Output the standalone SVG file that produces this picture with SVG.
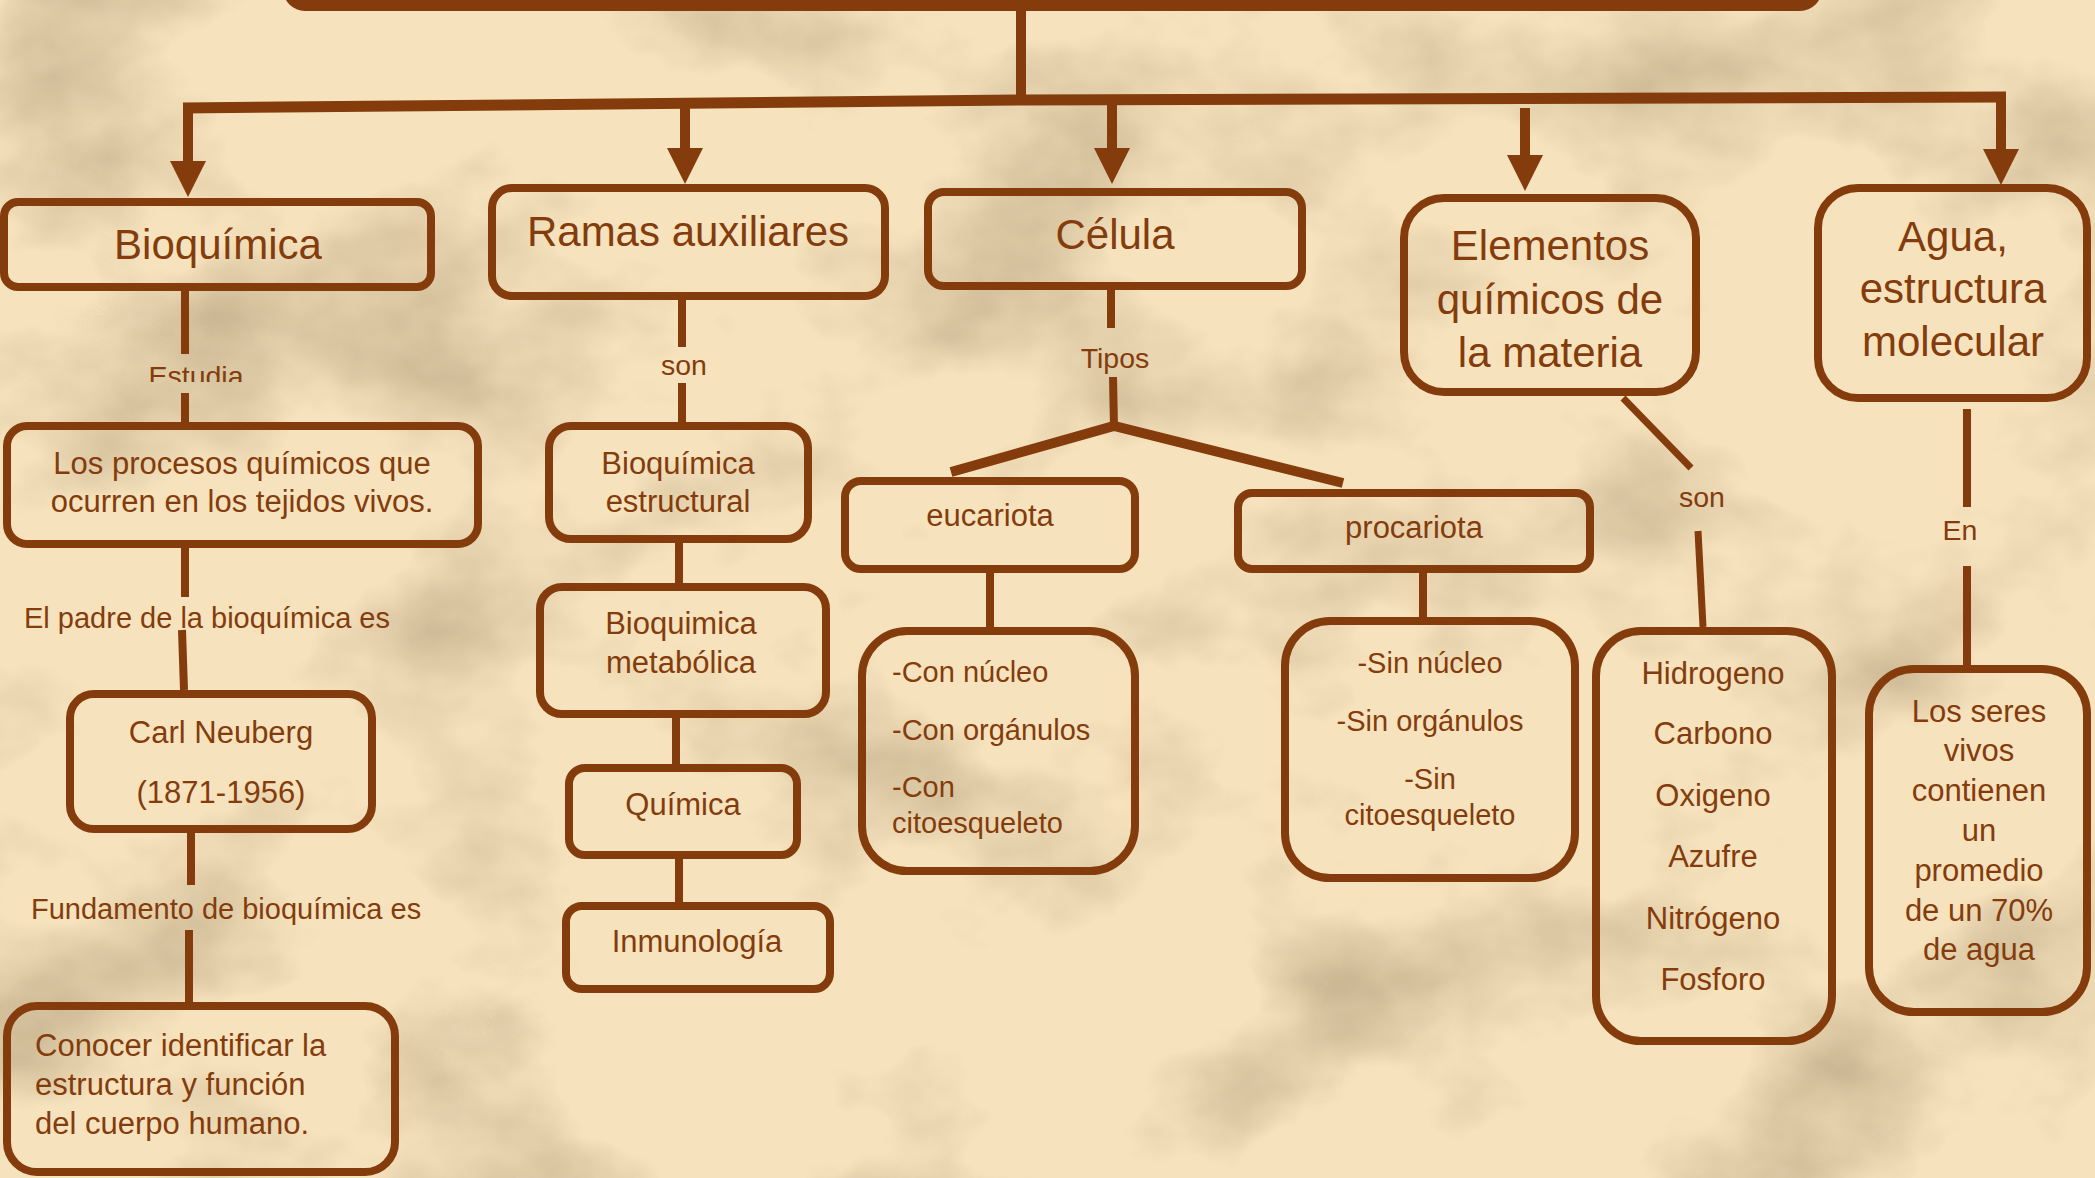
<svg xmlns="http://www.w3.org/2000/svg" width="2095" height="1178" viewBox="0 0 2095 1178">
<defs>
<style>
text{font-family:"Liberation Sans",Arial,sans-serif;fill:#843C0C}
.h{font-size:42px;text-anchor:middle}
.t{font-size:31px;text-anchor:middle}
.s{font-size:29px}
.sm{font-size:29px;text-anchor:middle}
.lb{font-size:28.5px;text-anchor:middle}
.la{font-size:29px}
.box{fill:none;stroke:#843C0C;stroke-width:8}
.c{fill:none;stroke:#843C0C;stroke-width:8}
.m{fill:none;stroke:#843C0C;stroke-width:11}
</style>
<filter id="parch" x="0" y="0" width="2095" height="1178" filterUnits="userSpaceOnUse" color-interpolation-filters="sRGB">
<feTurbulence type="fractalNoise" baseFrequency="0.0035 0.0045" numOctaves="5" seed="11"/>
<feColorMatrix type="matrix" values="0 0 0 0 0.66  0 0 0 0 0.58  0 0 0 0 0.44  1.5 0 0 0 -0.74"/>
</filter>
<marker id="ah" viewBox="0 0 10 10" refX="0" refY="5" markerWidth="36" markerHeight="36" markerUnits="userSpaceOnUse" orient="auto">
<path d="M0,0 L10,5 L0,10 z" fill="#843C0C"/>
</marker>
<clipPath id="estclip"><rect x="100" y="340" width="200" height="42"/></clipPath>
</defs>
<rect width="2095" height="1178" fill="#F6E3BE"/>
<rect width="2095" height="1178" filter="url(#parch)"/>

<g id="title">
<rect x="283" y="-50" width="1539" height="61" rx="22" fill="#843C0C"/>
</g>

<g id="connectors">
<line class="c" x1="1021" y1="5" x2="1021" y2="104" style="stroke-width:10"/>
<polyline class="m" points="183,108 1022,100 2006,97"/>
<line class="c" x1="188" y1="103" x2="188" y2="161" style="stroke-width:10" marker-end="url(#ah)"/>
<line class="c" x1="685" y1="100" x2="685" y2="148" style="stroke-width:10" marker-end="url(#ah)"/>
<line class="c" x1="1112" y1="98" x2="1112" y2="148" style="stroke-width:10" marker-end="url(#ah)"/>
<line class="c" x1="1525" y1="108" x2="1525" y2="155" style="stroke-width:10" marker-end="url(#ah)"/>
<line class="c" x1="2001" y1="92" x2="2001" y2="149" style="stroke-width:10" marker-end="url(#ah)"/>

<line class="c" x1="185" y1="291" x2="185" y2="354"/>
<line class="c" x1="185" y1="393" x2="185" y2="422"/>
<line class="c" x1="185" y1="548" x2="185" y2="597"/>
<line class="c" x1="182" y1="630" x2="184" y2="690"/>
<line class="c" x1="191" y1="833" x2="191" y2="885"/>
<line class="c" x1="189" y1="930" x2="189" y2="1002"/>

<line class="c" x1="682" y1="300" x2="682" y2="347"/>
<line class="c" x1="682" y1="383" x2="682" y2="422"/>
<line class="c" x1="679" y1="543" x2="679" y2="583"/>
<line class="c" x1="676" y1="718" x2="676" y2="764"/>
<line class="c" x1="679" y1="859" x2="679" y2="902"/>

<line class="c" x1="1111" y1="290" x2="1111" y2="328"/>
<line class="c" x1="1113" y1="377" x2="1114" y2="428"/>
<polyline class="c" points="951,472 1114,426 1343,483" style="stroke-width:10"/>
<line class="c" x1="990" y1="573" x2="990" y2="627"/>
<line class="c" x1="1423" y1="573" x2="1423" y2="617"/>

<line class="c" x1="1623" y1="398" x2="1691" y2="468" style="stroke-width:7"/>
<line class="c" x1="1698" y1="531" x2="1703" y2="627" style="stroke-width:7"/>

<line class="c" x1="1967" y1="409" x2="1967" y2="507"/>
<line class="c" x1="1967" y1="566" x2="1967" y2="665"/>

<text class="lb" x="196" y="386" clip-path="url(#estclip)">Estudia</text>
<text class="la" x="24" y="628">El padre de la bioquímica es</text>
<text class="la" x="31" y="919">Fundamento de bioquímica es</text>
<text class="lb" x="684" y="375">son</text>
<text class="lb" x="1115" y="368">Tipos</text>
<text class="lb" x="1702" y="507">son</text>
<text class="lb" x="1960" y="540">En</text>
</g>

<g id="bioquimica">
<rect class="box" x="4" y="202" width="427" height="85" rx="14"/>
<text class="h" x="218" y="259">Bioquímica</text>
</g>
<g id="ramas">
<rect class="box" x="492" y="188" width="393" height="108" rx="20"/>
<text class="h" x="688" y="246">Ramas auxiliares</text>
</g>
<g id="celula">
<rect class="box" x="928" y="192" width="374" height="94" rx="16"/>
<text class="h" x="1115" y="249">Célula</text>
</g>
<g id="elementos">
<rect class="box" x="1404" y="198" width="292" height="194" rx="40"/>
<text class="h" x="1550" y="260">Elementos</text>
<text class="h" x="1550" y="314">químicos de</text>
<text class="h" x="1550" y="367">la materia</text>
</g>
<g id="agua">
<rect class="box" x="1818" y="188" width="269" height="210" rx="40"/>
<text class="h" x="1953" y="251">Agua,</text>
<text class="h" x="1953" y="303">estructura</text>
<text class="h" x="1953" y="356">molecular</text>
</g>

<g id="procesos">
<rect class="box" x="7" y="426" width="471" height="118" rx="20"/>
<text class="t" x="242" y="474">Los procesos químicos que</text>
<text class="t" x="242" y="512">ocurren en los tejidos vivos.</text>
</g>
<g id="carl">
<rect class="box" x="70" y="694" width="302" height="135" rx="24"/>
<text class="t" x="221" y="743">Carl Neuberg</text>
<text class="t" x="221" y="803">(1871-1956)</text>
</g>
<g id="conocer">
<rect class="box" x="7" y="1006" width="388" height="166" rx="30"/>
<text style="font-size:31px" x="35" y="1056">Conocer identificar la</text>
<text style="font-size:31px" x="35" y="1095">estructura y función</text>
<text style="font-size:31px" x="35" y="1134">del cuerpo humano.</text>
</g>

<g id="estructural">
<rect class="box" x="549" y="426" width="259" height="113" rx="22"/>
<text class="t" x="678" y="474">Bioquímica</text>
<text class="t" x="678" y="512">estructural</text>
</g>
<g id="metabolica">
<rect class="box" x="540" y="587" width="286" height="127" rx="22"/>
<text class="t" x="681" y="634">Bioquimica</text>
<text class="t" x="681" y="673">metabólica</text>
</g>
<g id="quimica">
<rect class="box" x="569" y="768" width="228" height="87" rx="16"/>
<text class="t" x="683" y="815">Química</text>
</g>
<g id="inmunologia">
<rect class="box" x="566" y="906" width="264" height="83" rx="16"/>
<text class="t" x="697" y="952">Inmunología</text>
</g>

<g id="eucariota">
<rect class="box" x="845" y="481" width="290" height="88" rx="16"/>
<text class="t" x="990" y="526">eucariota</text>
</g>
<g id="procariota">
<rect class="box" x="1238" y="493" width="352" height="76" rx="14"/>
<text class="t" x="1414" y="538">procariota</text>
</g>
<g id="con">
<rect class="box" x="862" y="631" width="273" height="240" rx="45"/>
<text class="s" x="892" y="682">-Con núcleo</text>
<text class="s" x="892" y="740">-Con orgánulos</text>
<text class="s" x="892" y="797">-Con</text>
<text class="s" x="892" y="833">citoesqueleto</text>
</g>
<g id="sin">
<rect class="box" x="1285" y="621" width="290" height="257" rx="45"/>
<text class="sm" x="1430" y="673">-Sin núcleo</text>
<text class="sm" x="1430" y="731">-Sin orgánulos</text>
<text class="sm" x="1430" y="789">-Sin</text>
<text class="sm" x="1430" y="825">citoesqueleto</text>
</g>
<g id="hidrogeno">
<rect class="box" x="1596" y="631" width="236" height="410" rx="45"/>
<text class="t" x="1713" y="684">Hidrogeno</text>
<text class="t" x="1713" y="744">Carbono</text>
<text class="t" x="1713" y="806">Oxigeno</text>
<text class="t" x="1713" y="867">Azufre</text>
<text class="t" x="1713" y="929">Nitrógeno</text>
<text class="t" x="1713" y="990">Fosforo</text>
</g>
<g id="seres">
<rect class="box" x="1869" y="669" width="218" height="343" rx="45"/>
<text class="t" x="1979" y="722">Los seres</text>
<text class="t" x="1979" y="761">vivos</text>
<text class="t" x="1979" y="801">contienen</text>
<text class="t" x="1979" y="841">un</text>
<text class="t" x="1979" y="881">promedio</text>
<text class="t" x="1979" y="921">de un 70%</text>
<text class="t" x="1979" y="960">de agua</text>
</g>
</svg>
